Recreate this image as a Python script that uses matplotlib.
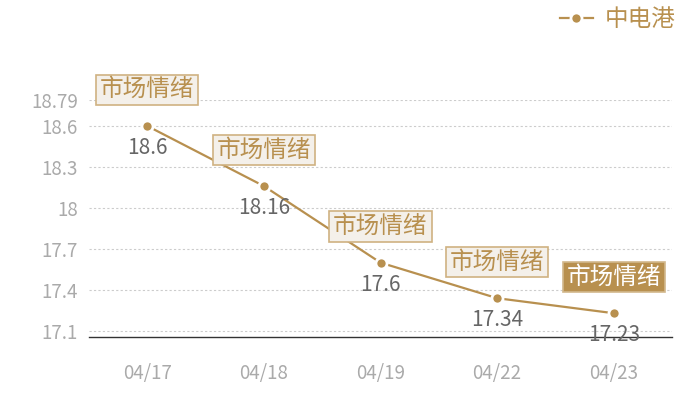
import matplotlib
matplotlib.use("Agg")
import matplotlib.pyplot as plt

plt.rcParams['font.family'] = ['Noto Sans CJK SC', 'DejaVu Sans']

dates = ["04/17", "04/18", "04/19", "04/22", "04/23"]
prices = [18.6, 18.16, 17.6, 17.34, 17.23]
notes = ["市场情绪", "市场情绪", "市场情绪", "市场情绪", "市场情绪"]
yticks = [17.1, 17.4, 17.7, 18.0, 18.3, 18.6, 18.79]
ytick_labels = ["17.1", "17.4", "17.7", "18", "18.3", "18.6", "18.79"]
series_name = "中电港"

gold = "#b8904f"

fig = plt.figure(figsize=(7, 4), dpi=100)
ax = fig.add_axes([89 / 700, 63 / 400, 583 / 700, 237 / 400])

x = list(range(len(dates)))
ax.plot(x, prices, color=gold, lw=1.6, marker="o", ms=8,
        mfc=gold, mec="white", mew=2, label=series_name, zorder=3)

ax.set_xlim(-0.5, len(dates) - 0.5)
ax.set_ylim(17.056, 18.79)
ax.set_yticks(yticks)
ax.set_yticklabels(ytick_labels)
ax.set_xticks(x)
ax.set_xticklabels(dates)

ax.grid(axis="y", color="#cccccc", ls=(0, (2, 2)), lw=0.8)
ax.set_axisbelow(True)
for s in ["top", "right", "left"]:
    ax.spines[s].set_visible(False)
ax.spines["bottom"].set_color("#333333")
ax.spines["bottom"].set_linewidth(1)
ax.tick_params(axis="both", length=0, labelcolor="#aaaaaa", labelsize=13.5)
ax.tick_params(axis="x", pad=19)
ax.tick_params(axis="y", pad=8)

for i, (xi, yi) in enumerate(zip(x, prices)):
    ax.annotate(f"{yi:g}", (xi, yi), xytext=(0, -16), textcoords="offset points",
                ha="center", va="center", fontsize=15, color="#666666",
                annotation_clip=False)
    last = i == len(x) - 1
    ax.annotate(notes[i], (xi, yi), xytext=(0, 26), textcoords="offset points",
                ha="center", va="center", fontsize=17,
                color="white" if last else gold,
                bbox=dict(boxstyle="square,pad=0.16",
                          fc=gold if last else "#f4f0ea",
                          ec="#d2b88c" if last else "#cfb282", lw=1.2),
                annotation_clip=False, zorder=5)

fig.legend(loc="center right", bbox_to_anchor=(0.995, 0.95), frameon=False,
           fontsize=17, labelcolor=gold, handlelength=1.4, handletextpad=0.5)

fig.savefig("out.png", dpi=100)
